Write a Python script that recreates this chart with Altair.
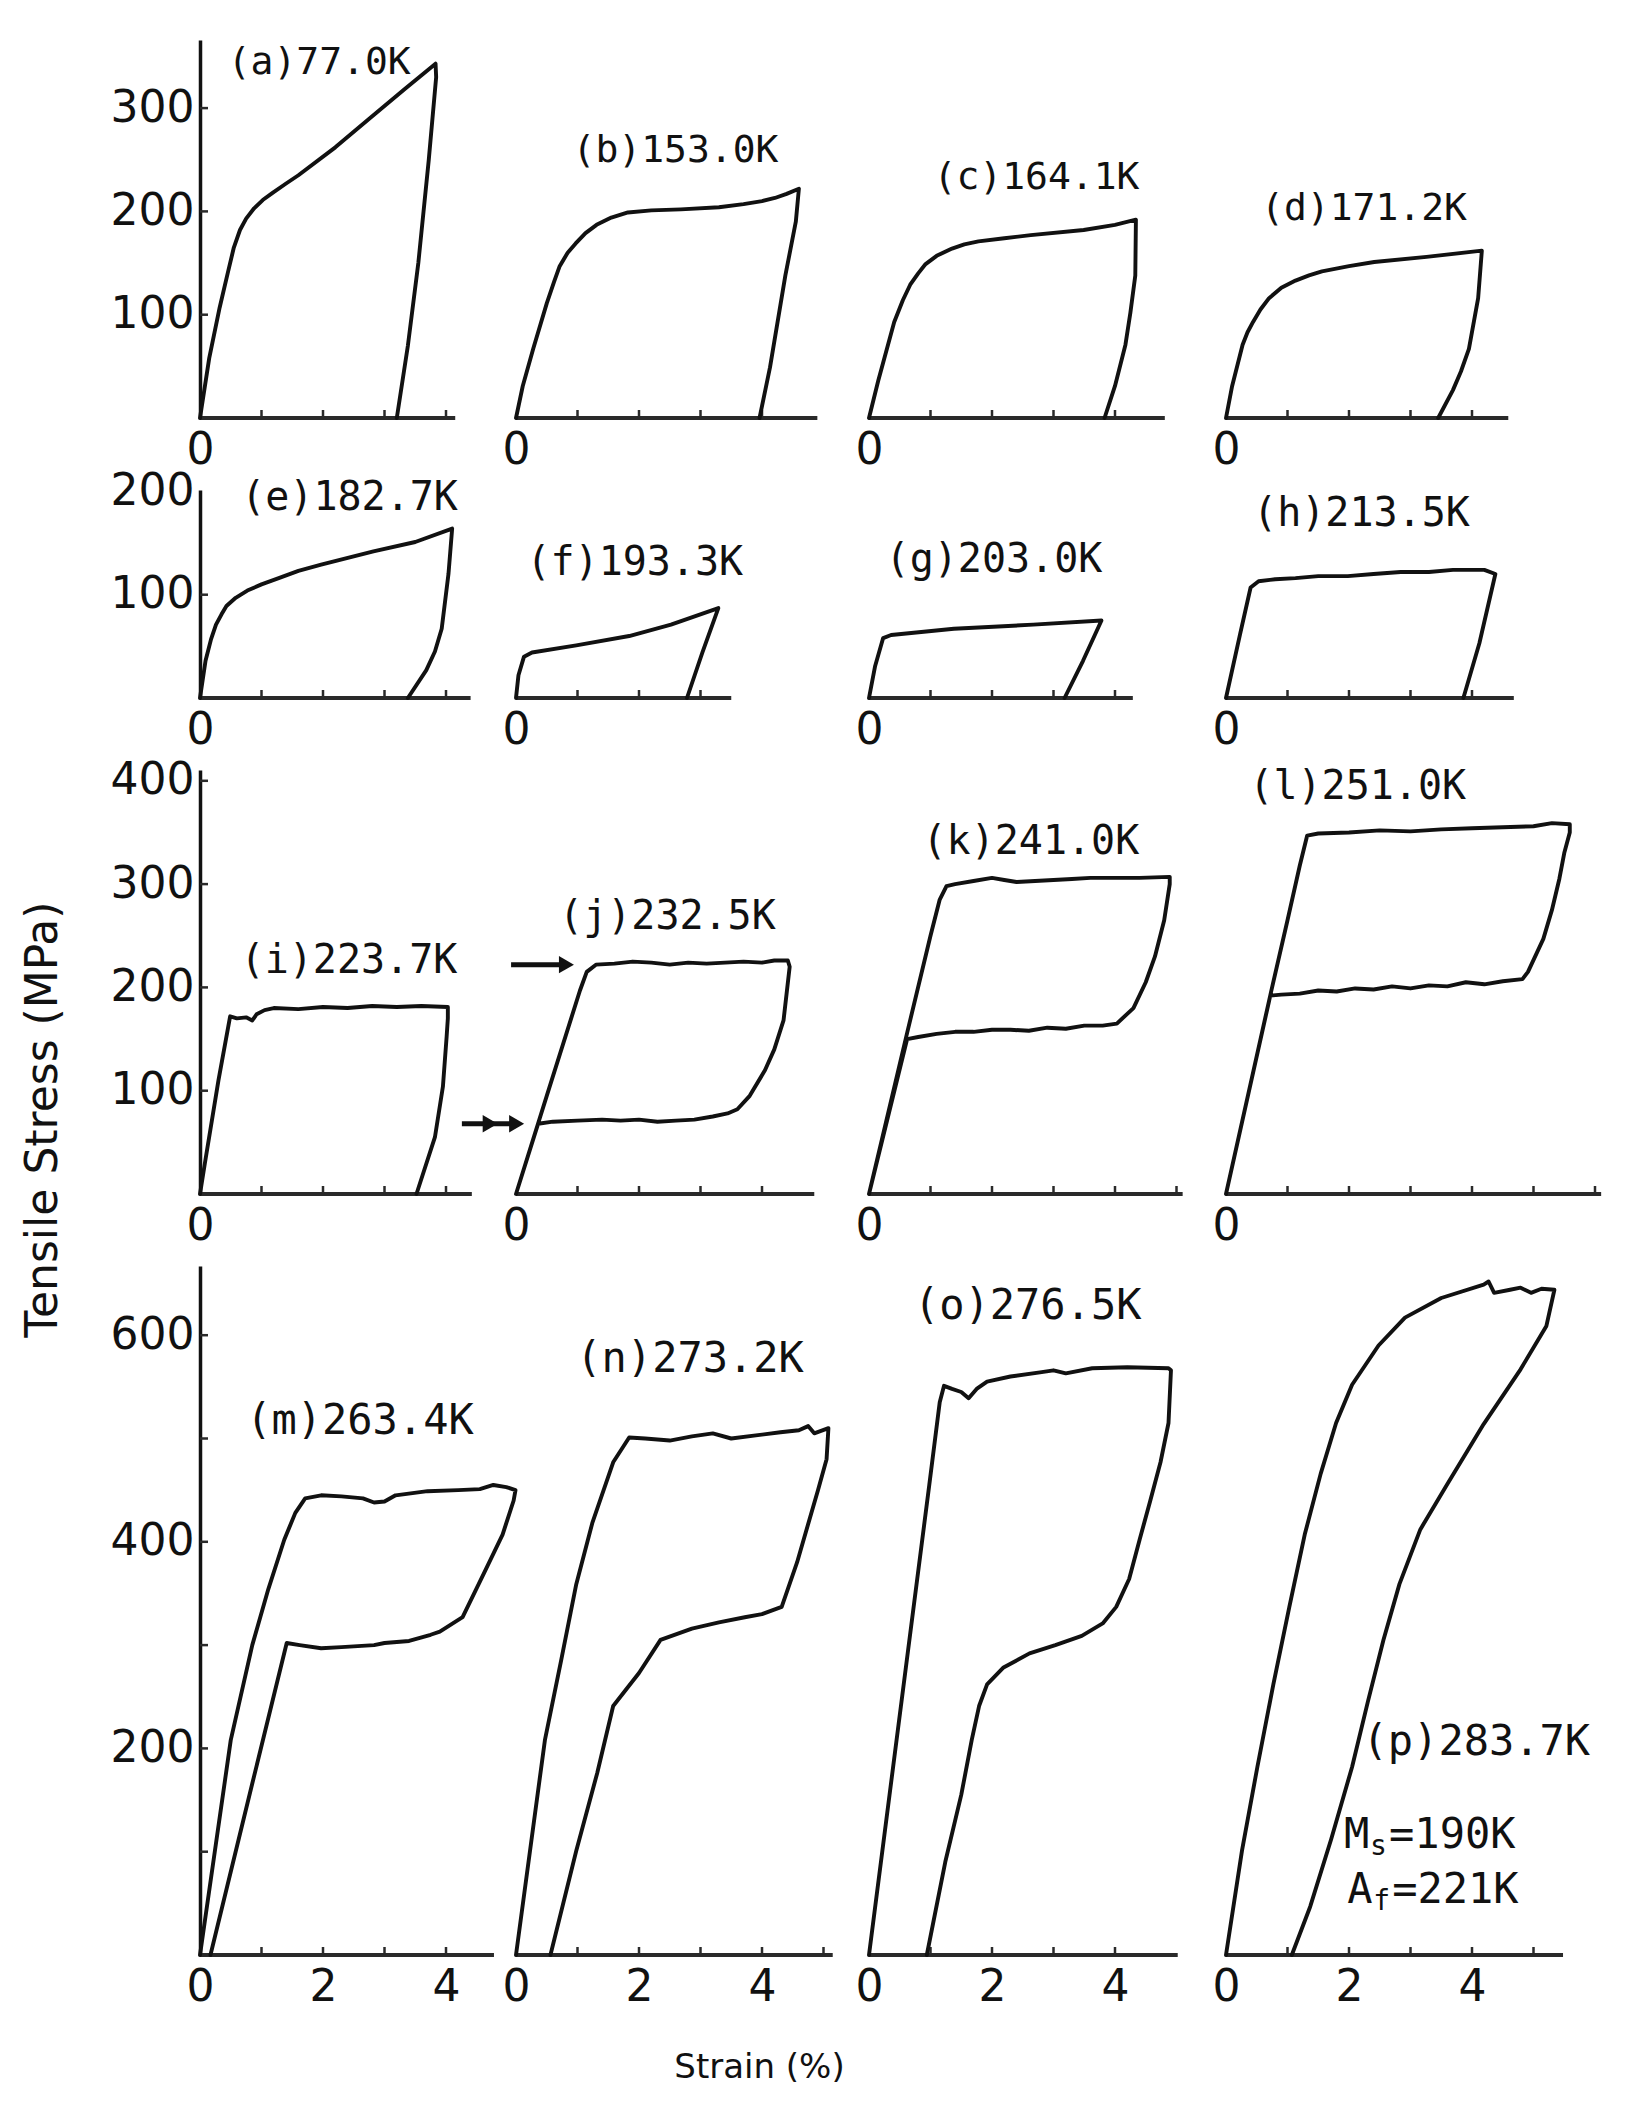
import altair as alt
import pandas as pd

# ---------------- layout (pixels) ----------------
KX = 61.5          # px per 1 % strain
KY = 1.033         # px per 1 MPa
COL_W = [316, 353, 357, 380]
ROW_H = [378, 208, 424, 689]
ROW_GAP = 72
INK = "#111111"
AXIS_INK = "#2a2a2a"
SANS = "DejaVu Sans"
MONO = "DejaVu Sans Mono"
NBSP = "\u00a0"

# ---------------- text ----------------
TITLES = ["(a)77.0K", "(b)153.0K", "(c)164.1K", "(d)171.2K",
          "(e)182.7K", "(f)193.3K", "(g)203.0K", "(h)213.5K",
          "(i)223.7K", "(j)232.5K", "(k)241.0K", "(l)251.0K",
          "(m)263.4K", "(n)273.2K", "(o)276.5K", "(p)283.7K"]
LABEL_STRAIN = [0.45, 0.92, 1.05, 0.57, 0.67, 0.17, 0.27, 0.44,
                0.66, 0.70, 0.87, 0.38, 0.75, 0.98, 0.73, 2.22]
LABEL_STRESS = [344, 258, 232, 202, 194, 131, 134, 178,
                226, 268, 341, 394, 517, 577, 628, 206]
LABEL_FS = [38, 40, 40, 42]
AXIS_END = [4.15, 4.90, 4.81, 4.59, 4.40, 3.50, 4.29, 4.68,
            4.42, 4.85, 5.10, 6.10, 4.78, 5.15, 5.02, 5.48]
Y_LABELS = [[100, 200, 300], [100, 200], [100, 200, 300, 400], [200, 400, 600]]
X_LABELS = [[0], [0], [0], [0, 2, 4]]
Y_TITLE = "Tensile Stress (MPa)"
X_TITLE = "Strain (%)"

# ---------------- curves (strain %, stress MPa) ----------------
a_strain = [0, 0.15, 0.32, 0.45, 0.55, 0.65, 0.75, 0.88, 1.02, 1.18, 1.40, 1.60, 2.20, 2.80, 3.32, 3.83,
            3.84, 3.72, 3.55, 3.38, 3.20]
a_stress = [0, 58, 107, 140, 165, 182, 193, 203, 211, 218, 227, 235, 262, 292, 318, 343,
            330, 250, 150, 70, 0]
b_strain = [0, 0.11, 0.28, 0.50, 0.62, 0.71, 0.84, 0.97, 1.13, 1.31, 1.55, 1.82, 2.20, 2.68, 3.30, 3.70,
            4.00, 4.21, 4.40, 4.60, 4.55, 4.38, 4.13, 3.96]
b_stress = [0, 31, 67, 111, 132, 147, 160, 169, 179, 187, 194, 199, 201, 202, 204, 207,
            210, 213, 217, 222, 190, 138, 49, 0]
c_strain = [0, 0.15, 0.41, 0.55, 0.67, 0.80, 0.92, 1.10, 1.35, 1.55, 1.78, 2.20, 2.63, 3.49, 4.00, 4.34,
            4.33, 4.25, 4.17, 4.00, 3.83]
c_stress = [0, 36, 93, 114, 129, 140, 149, 157, 164, 168, 171, 174, 177, 182, 187, 192,
            138, 102, 71, 31, 0]
d_strain = [0, 0.10, 0.27, 0.35, 0.44, 0.56, 0.70, 0.90, 1.13, 1.35, 1.56, 2.00, 2.41, 3.26, 4.16,
            4.10, 3.95, 3.82, 3.69, 3.45]
d_stress = [0, 31, 71, 83, 93, 105, 116, 126, 133, 138, 142, 147, 151, 156, 162,
            116, 67, 45, 27, 0]

e_strain = [0, 0.09, 0.18, 0.26, 0.35, 0.43, 0.58, 0.77, 1.00, 1.28, 1.60, 1.97, 2.82, 3.50, 4.10,
            4.04, 3.93, 3.82, 3.68, 3.38]
e_stress = [0, 36, 57, 71, 81, 89, 97, 104, 110, 116, 123, 129, 142, 151, 164,
            120, 67, 45, 27, 0]
f_strain = [0, 0.04, 0.13, 0.26, 0.98, 1.84, 2.52, 3.29, 3.03, 2.78]
f_stress = [0, 22, 40, 44, 51, 60, 71, 87, 44, 0]
g_strain = [0, 0.10, 0.23, 0.36, 1.38, 2.67, 3.78, 3.48, 3.18]
g_stress = [0, 31, 58, 61, 67, 71, 75, 36, 0]
h_strain = [0, 0.23, 0.40, 0.53, 0.80, 1.13, 1.50, 1.98, 2.40, 2.84, 3.30, 3.69, 4.20, 4.38, 4.12, 3.86]
h_stress = [0, 62, 107, 113, 115, 116, 118, 118, 120, 122, 122, 124, 124, 120, 53, 0]

i_strain = [0, 0.08, 0.30, 0.49, 0.60, 0.75, 0.85, 0.92, 1.05, 1.20, 1.60, 2.00, 2.40, 2.80, 3.20, 3.60,
            4.03, 4.03, 4.01, 3.95, 3.82, 3.52]
i_stress = [0, 30, 110, 172, 170, 171, 168, 174, 178, 180, 179, 181, 180, 182, 181, 182,
            181, 170, 152, 104, 55, 0]
j_strain = [0, 0.50, 1.04, 1.15, 1.30, 1.60, 1.90, 2.20, 2.50, 2.80, 3.10, 3.40, 3.70, 4.00, 4.20, 4.42,
            4.45, 4.35, 4.20, 4.05, 3.80, 3.60, 3.44, 3.20, 2.90, 2.60, 2.30, 2.00, 1.70, 1.40, 1.00, 0.60,
            0.36, 0]
j_stress = [0, 95, 197, 215, 222, 223, 225, 224, 222, 224, 223, 224, 225, 224, 226, 226,
            220, 168, 140, 120, 95, 82, 78, 75, 72, 71, 70, 72, 71, 72, 71, 70,
            68, 0]
k_strain = [0, 0.62, 1.00, 1.15, 1.26, 1.40, 1.70, 2.00, 2.20, 2.40, 2.70, 3.00, 3.30, 3.60, 4.00, 4.40,
            4.89, 4.89, 4.80, 4.65, 4.50, 4.30, 4.03, 3.80, 3.50, 3.20, 2.90, 2.60, 2.30, 2.00, 1.70, 1.40,
            1.10, 0.80, 0.62, 0]
k_stress = [0, 156, 250, 285, 298, 300, 303, 306, 304, 302, 303, 304, 305, 306, 306, 306,
            307, 300, 265, 230, 205, 180, 165, 163, 163, 160, 161, 158, 159, 159, 157, 157,
            155, 152, 150, 0]
l_strain = [0, 0.73, 1.00, 1.20, 1.32, 1.50, 2.00, 2.50, 3.00, 3.50, 4.00, 4.50, 5.00, 5.30, 5.59,
            5.59, 5.50, 5.42, 5.30, 5.16, 4.91, 4.82, 4.50, 4.20, 3.90, 3.60, 3.30, 3.00, 2.70, 2.40,
            2.10, 1.80, 1.50, 1.20, 0.90, 0.72, 0]
l_stress = [0, 195, 265, 318, 347, 349, 350, 352, 351, 353, 354, 355, 356, 359, 358,
            350, 330, 305, 275, 247, 215, 208, 206, 203, 205, 201, 202, 199, 201, 198,
            199, 196, 197, 194, 193, 192, 0]

m_strain = [0, 0.50, 0.85, 1.11, 1.37, 1.55, 1.71, 1.97, 2.30, 2.65, 2.83, 3.00, 3.18, 3.70, 4.20, 4.55,
            4.77, 4.98, 5.13, 5.10, 4.92, 4.62, 4.27, 3.90, 3.75, 3.40, 3.00, 2.83, 2.30, 1.97, 1.62, 1.41,
            0.85, 0.17]
m_stress = [0, 208, 300, 354, 402, 428, 442, 445, 444, 442, 438, 439, 445, 449, 450, 451,
            455, 453, 450, 440, 407, 370, 327, 313, 310, 304, 302, 300, 298, 297, 300, 302,
            166, 0]
n_strain = [0, 0.47, 0.73, 0.98, 1.24, 1.58, 1.84, 2.10, 2.50, 2.86, 3.20, 3.50, 3.90, 4.30, 4.60, 4.75,
            4.85, 5.08, 5.05, 4.91, 4.57, 4.32, 4.00, 3.72, 3.30, 2.86, 2.35, 2.00, 1.58, 1.32, 0.98, 0.56]
n_stress = [0, 208, 284, 359, 418, 477, 501, 500, 498, 502, 505, 500, 503, 506, 508, 512,
            505, 510, 480, 450, 380, 337, 330, 327, 322, 316, 305, 273, 241, 176, 101, 0]
o_strain = [0, 0.98, 1.15, 1.22, 1.35, 1.50, 1.62, 1.75, 1.92, 2.30, 2.78, 3.00, 3.20, 3.63, 4.20, 4.87,
            4.91, 4.87, 4.74, 4.57, 4.40, 4.23, 4.02, 3.80, 3.46, 3.03, 2.61, 2.18, 1.92, 1.79, 1.67, 1.50,
            1.24, 0.94]
o_stress = [0, 455, 535, 551, 548, 545, 539, 548, 555, 560, 564, 566, 563, 568, 569, 568,
            566, 515, 477, 439, 402, 364, 337, 321, 309, 300, 292, 278, 262, 241, 208, 155,
            90, 0]
p_strain = [0, 0.26, 0.51, 0.77, 1.03, 1.28, 1.54, 1.79, 2.05, 2.48, 2.91, 3.50, 4.19, 4.27, 4.36, 4.62,
            4.79, 4.96, 5.13, 5.34, 5.21, 4.79, 4.19, 3.59, 3.16, 2.82, 2.56, 2.31, 2.05, 1.71, 1.37, 1.07]
p_stress = [0, 101, 182, 262, 337, 407, 466, 515, 552, 590, 617, 636, 649, 652, 641, 644,
            646, 641, 645, 644, 609, 567, 514, 455, 412, 359, 305, 246, 182, 112, 47, 0]

STRAINS = [a_strain, b_strain, c_strain, d_strain, e_strain, f_strain, g_strain, h_strain,
           i_strain, j_strain, k_strain, l_strain, m_strain, n_strain, o_strain, p_strain]
STRESSES = [a_stress, b_stress, c_stress, d_stress, e_stress, f_stress, g_stress, h_stress,
            i_stress, j_stress, k_stress, l_stress, m_stress, n_stress, o_stress, p_stress]

# arrows in panel (j)
ARROW_STRESS = [222, 68]
ARROW_FROM = [-0.08, -0.88]
ARROW_TO = [0.82, 0.0]
HEAD_STRAIN = [0.82, -0.42, 0.01]
HEAD_STRESS = [222, 68, 68]

# note in panel (p)
NOTE_STRAIN = [1.92, 1.97]
NOTE_STRESS = [116, 63]
NOTE_MAIN = ["M", "A"]
NOTE_SUB = ["s", "f"]
NOTE_REST = ["=190K", "=221K"]


def build_panel(idx):
    r, c = divmod(idx, 4)
    w, h = COL_W[c], ROW_H[r]
    xmax, ymax = w / KX, h / KY
    recs = []
    for i, (s, t) in enumerate(zip(STRAINS[idx], STRESSES[idx])):
        recs.append({"kind": "curve", "strain": s, "stress": t, "order": i})
    recs.append({"kind": "axis", "strain": 0.0, "stress": 0.0, "order": 0})
    recs.append({"kind": "axis", "strain": AXIS_END[idx], "stress": 0.0, "order": 1})
    k = 1
    while k < AXIS_END[idx] - 0.05:
        recs.append({"kind": "xtick", "strain": float(k), "stress": 0.0})
        k += 1
    if c == 0:
        v = 100
        while v < ymax - 5:
            recs.append({"kind": "ytick", "strain": 0.0, "stress": float(v)})
            v += 100
    recs.append({"kind": "label", "strain": LABEL_STRAIN[idx], "stress": LABEL_STRESS[idx],
                 "text": TITLES[idx]})
    if idx == 9:
        for a0, a1, ay in zip(ARROW_FROM, ARROW_TO, ARROW_STRESS):
            recs.append({"kind": "arrow", "strain": a0, "strain2": a1, "stress": ay})
        for hx, hy in zip(HEAD_STRAIN, HEAD_STRESS):
            recs.append({"kind": "head", "strain": hx, "stress": hy})
    if idx == 15:
        for nx, ny, t1, t2, t3 in zip(NOTE_STRAIN, NOTE_STRESS, NOTE_MAIN, NOTE_SUB, NOTE_REST):
            recs.append({"kind": "n1", "strain": nx, "stress": ny, "text": t1})
            recs.append({"kind": "n2", "strain": nx, "stress": ny, "text": t2})
            recs.append({"kind": "n3", "strain": nx, "stress": ny, "text": t3})
    df = pd.DataFrame(recs)

    pad = ""
    if c == 0:
        pad = NBSP * (4 if r == 3 else 2)
    xkw = dict(values=X_LABELS[r], domain=False, ticks=False, grid=False,
               labelFont=SANS, labelFontSize=44, labelColor=INK, labelPadding=10,
               labelFlush=False, labelOverlap=False,
               labelExpr="datum.value === 0 ? '0" + pad + "' : datum.label")
    if idx == 13:
        xkw.update(title=X_TITLE, titleX=243, titleY=112, titleFont=SANS, titleFontSize=34,
                   titleFontWeight="normal", titleColor=INK, titleBaseline="middle",
                   titleAlign="center")
    else:
        xkw.update(title=None)
    x_enc = alt.X("strain:Q", scale=alt.Scale(domain=[0, xmax], nice=False, zero=False),
                  axis=alt.Axis(**xkw))

    if c == 0:
        ykw = dict(values=Y_LABELS[r], domain=True, domainColor=INK, domainWidth=3.5,
                   ticks=False, grid=False, labelFont=SANS, labelFontSize=44, labelColor=INK,
                   labelPadding=6, labelFlush=False, labelOverlap=False)
        if r == 2:
            ykw.update(title=Y_TITLE, titleX=-157, titleY=349, titleAngle=270,
                       titleAlign="center", titleBaseline="middle", titleFont=SANS,
                       titleFontSize=44, titleFontWeight="normal", titleColor=INK)
        else:
            ykw.update(title=None)
        y_axis = alt.Axis(**ykw)
    else:
        y_axis = None
    y_enc = alt.Y("stress:Q", scale=alt.Scale(domain=[0, ymax], nice=False, zero=False),
                  axis=y_axis)

    base = alt.Chart(df).encode(x=x_enc, y=y_enc)
    layers = [
        base.transform_filter("datum.kind === 'axis'").mark_line(
            color=AXIS_INK, strokeWidth=3.8).encode(order="order:Q"),
        base.transform_filter("datum.kind === 'xtick'").mark_tick(
            orient="vertical", size=8, thickness=2.5, yOffset=-4, color=AXIS_INK, opacity=1),
        base.transform_filter("datum.kind === 'curve'").mark_line(
            color=INK, strokeWidth=3.9, strokeJoin="round", strokeCap="round").encode(order="order:Q"),
        base.transform_filter("datum.kind === 'label'").mark_text(
            align="left", baseline="middle", font=MONO, fontSize=LABEL_FS[r], color=INK
        ).encode(text="text:N"),
    ]
    if c == 0:
        layers.append(base.transform_filter("datum.kind === 'ytick'").mark_tick(
            orient="horizontal", size=8, thickness=2.5, xOffset=4, color=AXIS_INK, opacity=1))
    if idx == 9:
        layers.append(base.transform_filter("datum.kind === 'arrow'").mark_rule(
            color=INK, strokeWidth=5).encode(x2="strain2:Q"))
        layers.append(base.transform_filter("datum.kind === 'head'").mark_point(
            shape="triangle-right", filled=True, size=300, color=INK, opacity=1))
    if idx == 15:
        layers.append(base.transform_filter("datum.kind === 'n1'").mark_text(
            align="left", baseline="middle", font=MONO, fontSize=42, color=INK).encode(text="text:N"))
        layers.append(base.transform_filter("datum.kind === 'n2'").mark_text(
            align="left", baseline="middle", font=MONO, fontSize=28, dx=26, dy=12, color=INK
        ).encode(text="text:N"))
        layers.append(base.transform_filter("datum.kind === 'n3'").mark_text(
            align="left", baseline="middle", font=MONO, fontSize=42, dx=45, color=INK
        ).encode(text="text:N"))
    return alt.layer(*layers).properties(width=w, height=h)


panels = [build_panel(i) for i in range(16)]

chart = alt.concat(
    *panels, columns=4,
    spacing={"row": ROW_GAP, "column": 0},
    bounds="flush", align="each",
).properties(
    padding={"left": 13, "top": 32, "right": 10, "bottom": 10},
    background="white",
).configure_view(stroke=None)

chart.save("out.html", embed_options={"renderer": "svg", "actions": False})
